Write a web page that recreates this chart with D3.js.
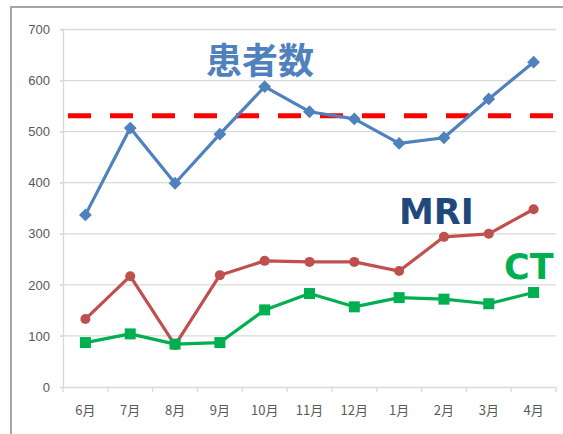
<!DOCTYPE html>
<html>
<head>
<meta charset="utf-8">
<script src="https://cdn.jsdelivr.net/npm/d3@7"></script>
<style>
  body { margin: 0; background: #fff; }
  svg { display: block; }
</style>
</head>
<body>
<script>
var months = ["6月", "7月", "8月", "9月", "10月", "11月", "12月", "1月", "2月", "3月", "4月"];
var patients = [337, 507, 399, 495, 588, 539, 525, 477, 488, 564, 636];
var mri = [133, 217, 82, 219, 247, 245, 245, 227, 294, 300, 348];
var ct = [87, 104, 84, 87, 151, 183, 157, 175, 172, 163, 185];
var target = 531;
var yTicks = [0, 100, 200, 300, 400, 500, 600, 700];

(function () {
    var width = 563, height = 434;
    var plotL = 63, plotR = 556, plotT = 29.5, plotB = 387;

    var svg = d3.select("body").append("svg")
        .attr("width", width)
        .attr("height", height);

    // outer frame
    svg.append("path")
        .attr("d", "M11," + height + "V7H" + width)
        .attr("fill", "none")
        .attr("stroke", "#a6a6a6")
        .attr("stroke-width", 2);

    var x = d3.scaleBand().domain(months).range([plotL, plotR]);
    var y = d3.scaleLinear().domain([0, 700]).range([plotB, plotT]);

    // gridlines
    svg.append("g").selectAll("line")
        .data(yTicks.slice(1))
        .enter().append("line")
        .attr("x1", plotL - 3)
        .attr("x2", plotR)
        .attr("y1", function (d) { return y(d) })
        .attr("y2", function (d) { return y(d) })
        .attr("stroke", "#d9d9d9")
        .attr("stroke-width", 1.3);

    // y axis
    var yAxis = svg.append("g")
        .attr("transform", "translate(" + plotL + ",0)")
        .call(d3.axisLeft(y).tickValues(yTicks).tickSize(3).tickPadding(10));
    yAxis.select(".domain").attr("stroke", "#d9d9d9").attr("stroke-width", 1.3);
    yAxis.selectAll(".tick line").attr("stroke", "#d9d9d9");
    yAxis.selectAll("text")
        .attr("fill", "#595959")
        .style("font-family", "'Liberation Sans', Arial, sans-serif")
        .style("font-size", "13px");

    // x axis
    var xAxis = svg.append("g")
        .attr("transform", "translate(0," + plotB + ")")
        .call(d3.axisBottom(x).tickSize(0).tickPadding(19));
    xAxis.select(".domain").attr("stroke", "#d9d9d9").attr("stroke-width", 1.5);
    xAxis.selectAll("text")
        .attr("fill", "#595959")
        .style("font-family", "'Noto Sans CJK JP', sans-serif")
        .style("font-size", "13px");
    xAxis.append("g").selectAll("line")
        .data(months.concat([null]))
        .enter().append("line")
        .attr("x1", function (d, i) { return plotL + i * x.bandwidth() })
        .attr("x2", function (d, i) { return plotL + i * x.bandwidth() })
        .attr("y1", 0)
        .attr("y2", 5)
        .attr("stroke", "#d9d9d9")
        .attr("stroke-width", 1.3);

    // target dashed line
    svg.append("line")
        .attr("x1", plotL + 5)
        .attr("x2", plotR - 3)
        .attr("y1", y(target))
        .attr("y2", y(target))
        .attr("stroke", "#ff0000")
        .attr("stroke-width", 5)
        .attr("stroke-dasharray", "23,19");

    var cx = function (d, i) { return x(months[i]) + x.bandwidth() / 2 };

    function drawLine(values, color) {
        svg.append("path")
            .datum(values)
            .attr("fill", "none")
            .attr("stroke", color)
            .attr("stroke-width", 3.2)
            .attr("stroke-linejoin", "round")
            .attr("d", d3.line().x(cx).y(function (d) { return y(d) }));
    }

    drawLine(patients, "#4f81bd");
    drawLine(mri, "#c0504d");
    drawLine(ct, "#00b050");

    // markers
    svg.append("g").selectAll("path")
        .data(patients)
        .enter().append("path")
        .attr("transform", function (d, i) { return "translate(" + cx(d, i) + "," + y(d) + ")" })
        .attr("d", d3.symbol().type(d3.symbolDiamond2).size(105))
        .attr("fill", "#4f81bd");

    svg.append("g").selectAll("circle")
        .data(mri)
        .enter().append("circle")
        .attr("cx", cx)
        .attr("cy", function (d) { return y(d) })
        .attr("r", 5)
        .attr("fill", "#c0504d");

    svg.append("g").selectAll("rect")
        .data(ct)
        .enter().append("rect")
        .attr("x", function (d, i) { return cx(d, i) - 5.5 })
        .attr("y", function (d) { return y(d) - 5.5 })
        .attr("width", 11)
        .attr("height", 11)
        .attr("fill", "#00b050");

    // series labels
    var labels = [
        { text: "患者数", x: 206, y: 74, color: "#4f81bd", size: 36, font: "'Noto Sans CJK JP', sans-serif" },
        { text: "MRI", x: 399, y: 224, color: "#1f497d", size: 35, font: "'DejaVu Sans', sans-serif" },
        { text: "CT", x: 504, y: 279, color: "#00b050", size: 35, font: "'DejaVu Sans', sans-serif" }
    ];
    svg.append("g").selectAll("text")
        .data(labels)
        .enter().append("text")
        .attr("x", function (d) { return d.x })
        .attr("y", function (d) { return d.y })
        .attr("fill", function (d) { return d.color })
        .style("font-family", function (d) { return d.font })
        .style("font-size", function (d) { return d.size + "px" })
        .style("font-weight", "bold")
        .text(function (d) { return d.text });
}());
</script>
</body>
</html>
